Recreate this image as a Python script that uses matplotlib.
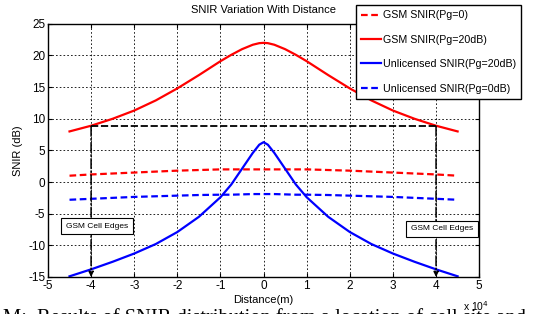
import matplotlib
matplotlib.use('Agg')
import matplotlib.pyplot as plt
import numpy as np

plt.rcParams["font.family"] = 'Liberation Sans'
plt.rcParams["axes.unicode_minus"] = False

# distance in units of 1e4 m
dist = [-4.5, -4, -3.5, -3, -2.5, -2, -1.5, -1, -0.75, -0.5, -0.25, -0.1, 0,
        0.1, 0.25, 0.5, 0.75, 1, 1.5, 2, 2.5, 3, 3.5, 4, 4.5]
gsm_pg0 = [1.0, 1.2, 1.35, 1.5, 1.65, 1.8, 1.9, 2.0, 2.0, 2.0, 2.0, 2.0, 2.0,
           2.0, 2.0, 2.0, 2.0, 2.0, 1.9, 1.8, 1.65, 1.5, 1.35, 1.2, 1.0]
gsm_pg20 = [8.0, 8.9, 10.0, 11.3, 12.9, 14.8, 16.9, 19.1, 20.1, 21.0, 21.7, 21.95, 22.0,
            21.95, 21.7, 21.0, 20.1, 19.1, 16.9, 14.8, 12.9, 11.3, 10.0, 8.9, 8.0]
unl_pg20 = [-14.9, -13.8, -12.6, -11.3, -9.8, -7.9, -5.5, -2.4, -0.4, 2.1, 4.6, 5.9, 6.3,
            5.9, 4.6, 2.1, -0.4, -2.4, -5.5, -7.9, -9.8, -11.3, -12.6, -13.8, -14.9]
unl_pg0 = [-2.8, -2.65, -2.5, -2.35, -2.25, -2.15, -2.05, -2.0, -2.0, -1.95, -1.9, -1.9, -1.9,
           -1.9, -1.9, -1.95, -2.0, -2.0, -2.05, -2.15, -2.25, -2.35, -2.5, -2.65, -2.8]

edge_x = [-4, 4]
edge_snir = 8.8
xticks = [-5, -4, -3, -2, -1, 0, 1, 2, 3, 4, 5]
yticks = [-15, -10, -5, 0, 5, 10, 15, 20, 25]

fig = plt.figure(figsize=(5.33, 3.14), dpi=100)
ax = fig.add_axes([0.090, 0.118, 0.809, 0.806])

x = np.array(dist) * 1e4
l1, = ax.plot(x, gsm_pg0, color='red', ls=(0, (3, 1.6)), lw=1.6)
l2, = ax.plot(x, gsm_pg20, color='red', ls='-', lw=1.6)
l3, = ax.plot(x, unl_pg20, color='blue', ls='-', lw=1.6)
l4, = ax.plot(x, unl_pg0, color='blue', ls=(0, (3, 1.6)), lw=1.6)

# cell edge markers
ax.plot([edge_x[0] * 1e4, edge_x[1] * 1e4], [edge_snir, edge_snir],
        color='black', ls=(0, (4, 1.5)), lw=1.3)
for ex in edge_x:
    ax.annotate('', xy=(ex * 1e4, -15), xytext=(ex * 1e4, edge_snir),
                arrowprops=dict(arrowstyle='-|>', color='black', lw=1.1,
                                ls='-.', mutation_scale=7, shrinkA=0, shrinkB=0))

box = dict(boxstyle='square,pad=0.55', fc='white', ec='black', lw=0.8)
fig.text(66 / 533, 1 - 226 / 314, 'GSM Cell Edges', fontsize=6, va='center', ha='left', bbox=box)
fig.text(411 / 533, 1 - 229 / 314, 'GSM Cell Edges', fontsize=6, va='center', ha='left', bbox=box)

ax.set_xlim(-5e4, 5e4)
ax.set_ylim(-15, 25)
ax.set_xticks([t * 1e4 for t in xticks])
ax.set_xticklabels([str(t) for t in xticks])
ax.set_yticks(yticks)
ax.tick_params(direction='in', length=3, labelsize=8.5, top=True, right=True, pad=2)
ax.grid(True, color='black', ls=(0, (2, 2.5)), lw=0.6)
for s in ax.spines.values():
    s.set_linewidth(1.0)

ax.set_title('SNIR Variation With Distance', fontsize=8, pad=8)
ax.set_xlabel('Distance(m)', fontsize=8, labelpad=2)
ax.set_ylabel('SNIR (dB)', fontsize=8, labelpad=4)
fig.text(463 / 533, 1 - 299 / 314, r'x 10$^4$', fontsize=7.5, va='top', ha='left')

leg = fig.legend([l1, l2, l3, l4],
                 ['GSM SNIR(Pg=0)', 'GSM SNIR(Pg=20dB)',
                  'Unlicensed SNIR(Pg=20dB)', 'Unlicensed SNIR(Pg=0dB)'],
                 loc='upper right', bbox_to_anchor=(521 / 533, 1 - 5 / 314),
                 fontsize=7.7, frameon=True, fancybox=False, handlelength=1.9,
                 handletextpad=0.1, labelspacing=1.35, borderpad=0.5,
                 borderaxespad=0)
leg.get_frame().set_edgecolor('black')
leg.get_frame().set_linewidth(1.0)
leg.get_frame().set_alpha(1)

# figure caption from the source page, cut by the image edge
fig.text(0.006, -9 / 314, 'M:  Results of SNIR distribution from a location of cell site and',
         fontsize=14.8, family='Liberation Serif', va='baseline', ha='left')

fig.savefig('out.png', dpi=100)
